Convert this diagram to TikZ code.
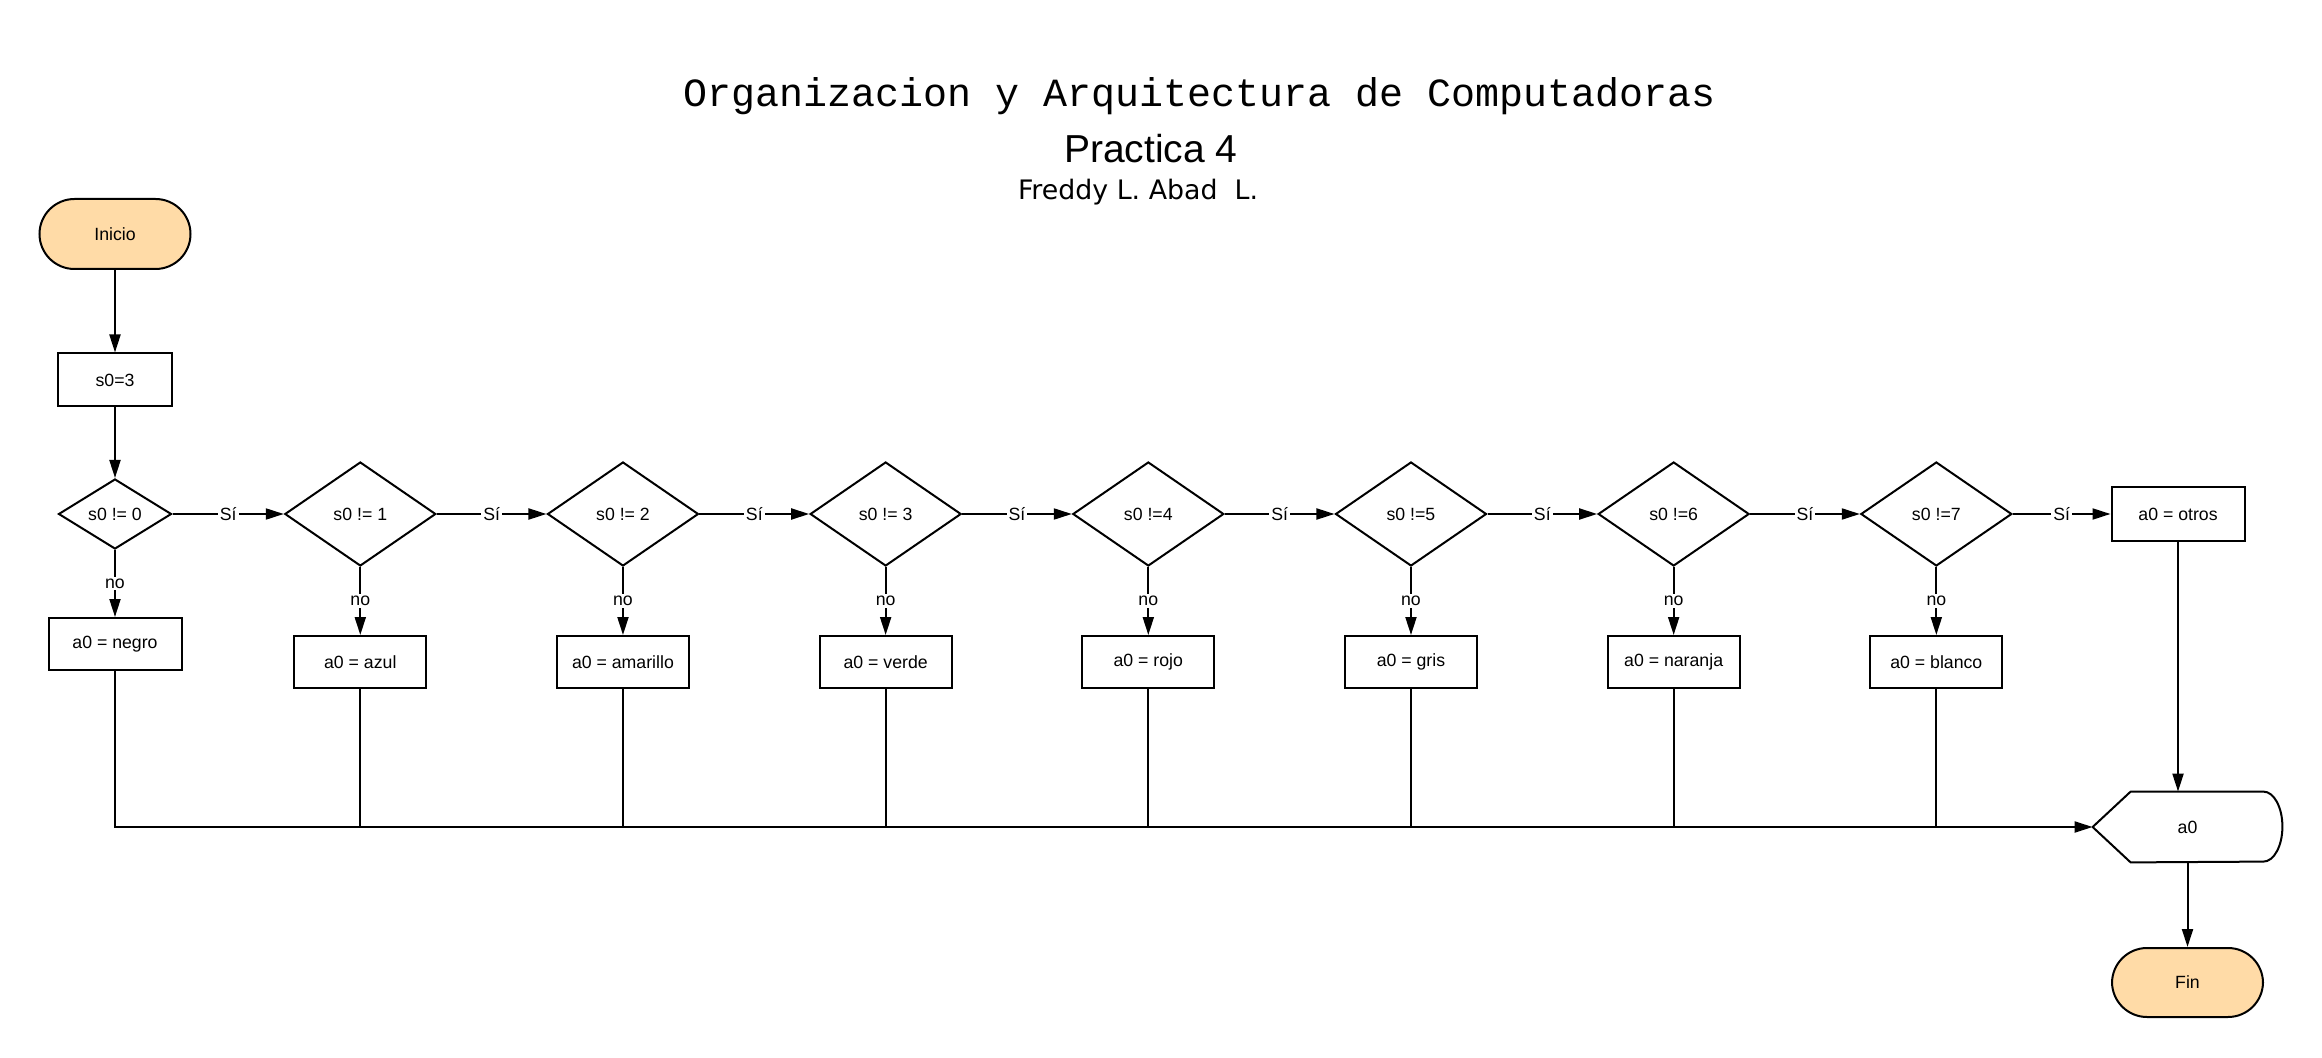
\documentclass[tikz,border=0pt]{standalone}
\usepackage{fontspec}
\setmainfont{Liberation Sans}
\newfontfamily\titlefont{Liberation Mono}
\newfontfamily\authfont{DejaVu Sans}
\usetikzlibrary{shapes.geometric,arrows.meta,calc}
\definecolor{termfill}{RGB}{255,219,167}
\begin{document}
\begin{tikzpicture}[x=0.5pt,y=-0.5pt,
  every node/.style={font=\fontsize{8.85}{10}\selectfont},
  base/.style={draw,line width=1pt,inner sep=0pt},
  term/.style={base,fill=termfill,rounded corners=17.5pt,minimum width=75.5pt,minimum height=35pt},
  proc/.style={base,rectangle,minimum width=66pt,minimum height=26pt},
  dec/.style={base,diamond,minimum width=75.5pt,minimum height=52pt},
  conn/.style={line width=1pt},
  arr/.style={conn,-{Triangle[length=9pt,width=5.5pt]}},
  lbl/.style={fill=white,inner sep=1pt}]
\useasboundingbox (0,0) rectangle (2322,1058);

% titles
\node[font=\titlefont\fontsize{20}{24}\selectfont, anchor=base] (title) at (1200,106.7) {Organizacion y Arquitectura de Computadoras};
\node[font=\fontsize{19.5}{22}\selectfont, anchor=base] (sub) at (1151,163) {Practica 4};
\node[font=\authfont\fontsize{13.4}{16}\selectfont, anchor=base] (auth) at (1138,200) {Freddy L. Abad\ \ L.};

% start
\node[term] (ini) at (115,234) {Inicio};
\node[proc,minimum width=57pt,minimum height=26.5pt] (s0) at (115,380) {s0=3};
\node[dec,minimum width=56.5pt,minimum height=35pt] (d0) at (115,514) {s0 != 0};
\node[proc,minimum width=66.5pt] (negro) at (115,644) {a0 = negro};

\foreach \k/\cond/\res in {1/{s0 != 1}/azul,2/{s0 != 2}/amarillo,3/{s0 != 3}/verde,4/{s0 !=4}/rojo,5/{s0 !=5}/gris,6/{s0 !=6}/naranja,7/{s0 !=7}/blanco}{
  \pgfmathsetmacro\xx{360.3+(\k-1)*262.67}
  \node[dec] (d\k) at (\xx,514) {\cond};
  \node[proc] (b\k) at (\xx,662) {a0 = \res};
}

\node[proc,minimum width=66.5pt,minimum height=26.5pt] (otros) at (2178,514) {a0 = otros};

% display
\node[inner sep=0pt,minimum width=94.5pt,minimum height=35pt] (disp) at (2187.5,827) {a0};
\draw[line width=1pt,line join=round] ([xshift=19pt]disp.north west) -- ([xshift=-9.5pt]disp.north east)
  arc[start angle=90,end angle=-90,x radius=9.5pt,y radius=17.5pt]
  -- ([xshift=19pt]disp.south west) -- (disp.west) -- cycle;

\node[term,minimum height=34.5pt] (fin) at (2187.5,982.5) {Fin};

% connectors
\draw[arr] (ini) -- (s0);
\draw[arr] (s0) -- (d0);
\draw[arr] (d0) -- node[lbl]{Sí} (d1);
\foreach \a/\b in {1/2,2/3,3/4,4/5,5/6,6/7} \draw[arr] (d\a) -- node[lbl]{Sí} (d\b);
\draw[arr] (d7) -- node[lbl]{Sí} (otros);
\draw[arr] (d0) -- node[lbl]{no} (negro);
\foreach \k in {1,...,7} \draw[arr] (d\k) -- node[lbl]{no} (b\k);
\draw[arr] (negro.south) |- (disp.west);
\foreach \k in {1,...,7} \draw[conn] (b\k.south) -- (b\k.south |- disp.west);
\draw[arr] (otros.south) -- (otros.south |- disp.north);
\draw[arr] (disp.south) -- (fin.north);
\end{tikzpicture}
\end{document}
